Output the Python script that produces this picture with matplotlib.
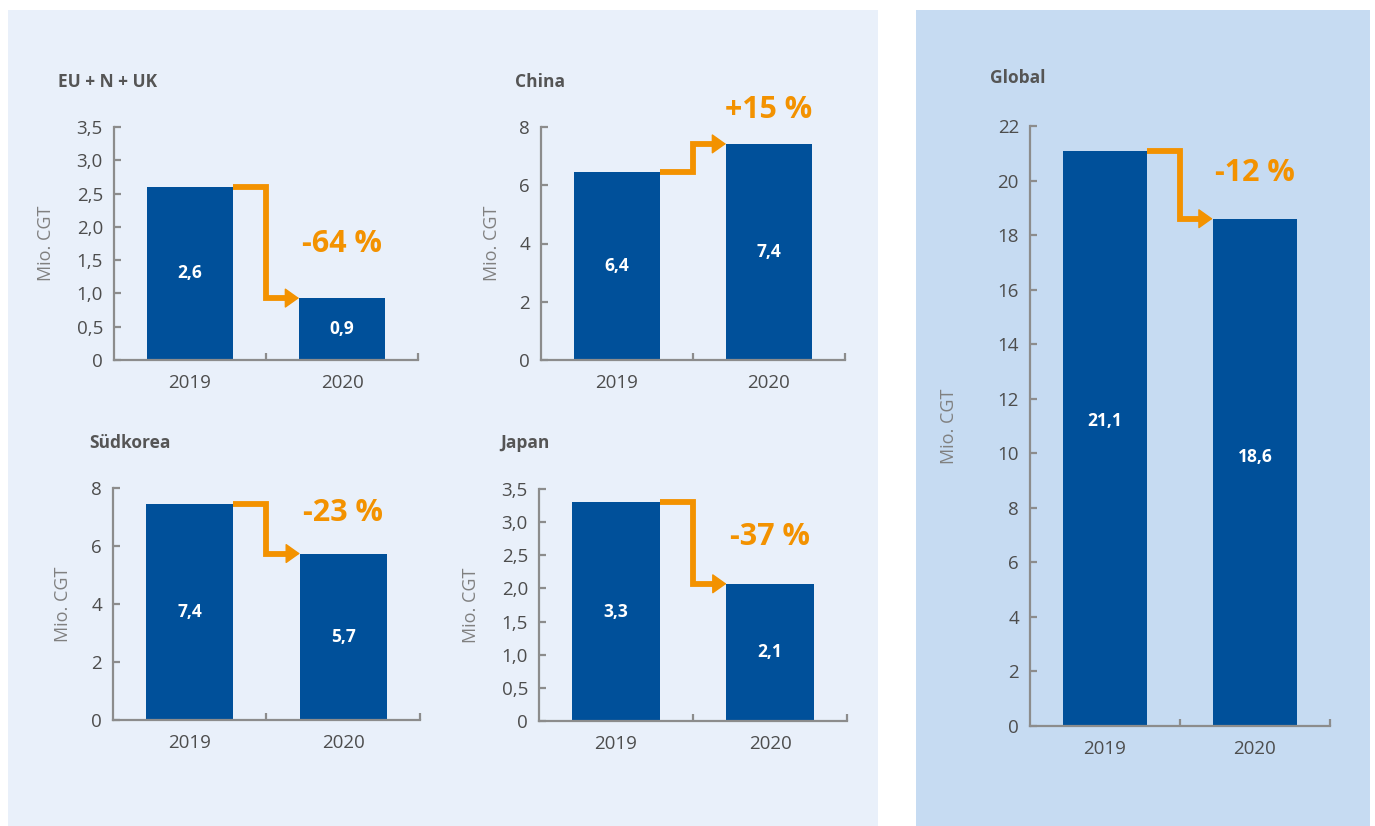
import matplotlib.pyplot as plt
from matplotlib.patches import Rectangle

plt.rcParams['font.family'] = ['Open Sans', 'DejaVu Sans']

# --- data ---
years = ["2019", "2020"]
eu_vals = [2.6, 0.93]
china_vals = [6.44, 7.42]
korea_vals = [7.44, 5.74]
japan_vals = [3.30, 2.07]
global_vals = [21.1, 18.6]
pct_labels = ["-64 %", "+15 %", "-23 %", "-37 %", "-12 %"]
titles = ["EU + N + UK", "China", "Südkorea", "Japan", "Global"]

BAR = "#00509A"
ORANGE = "#F39200"
SPINE = "#8C8C8C"
TXT = "#4D4D4D"
W, H = 1375, 826


def tick_fmt(ticks):
    if all(t == int(t) for t in ticks):
        return [str(int(t)) for t in ticks]
    return ["0" if t == 0 else f"{t:.1f}".replace(".", ",") for t in ticks]


def panel(fig, rect_px, title_px, title, vals, yticks, pct, pct_y, ylab_x, lab_frac):
    l, r, t, b = rect_px
    ax = fig.add_axes([l / W, 1 - b / H, (r - l) / W, (b - t) / H])
    ax.set_facecolor("none")
    bw = 0.565
    ax.bar([0, 1], vals, width=bw, color=BAR, zorder=2)
    ax.set_xlim(-0.5, 1.5)
    ax.set_ylim(0, yticks[-1])
    ax.set_yticks(yticks)
    ax.set_yticklabels(tick_fmt(yticks))
    ax.set_xticks([0, 1])
    ax.set_xticklabels(years)
    ax.set_xticks([0.5, 1.5], minor=True)
    for s in ("top", "right"):
        ax.spines[s].set_visible(False)
    for s in ("left", "bottom"):
        ax.spines[s].set_color(SPINE)
        ax.spines[s].set_linewidth(1.6)
    ax.tick_params(axis="y", direction="in", length=5, width=1.6, color=SPINE,
                   labelsize=13.5, labelcolor=TXT, pad=8)
    ax.tick_params(axis="x", which="major", length=0, labelsize=13.5,
                   labelcolor=TXT, pad=10)
    ax.tick_params(axis="x", which="minor", direction="in", length=5,
                   width=1.6, color=SPINE)
    ax.set_ylabel("Mio. CGT", fontsize=13, color="#808080")
    ax.yaxis.set_label_coords(ylab_x, 0.5)

    for i, v in enumerate(vals):
        ax.text(i, v * lab_frac, f"{v:.1f}".replace(".", ","), ha="center",
                va="center", color="white", fontsize=12.5, fontweight="bold",
                zorder=3)

    # elbow arrow
    v0, v1 = vals
    x0 = bw / 2
    x1 = 1 - bw / 2
    ax.plot([x0, 0.5, 0.5, x1 - 0.06], [v0, v0, v1, v1], color=ORANGE, lw=4.2,
            solid_joinstyle="miter", solid_capstyle="butt", zorder=3,
            clip_on=False)
    ax.annotate("", xy=(x1, v1), xytext=(0.5, v1),
                arrowprops=dict(arrowstyle="-|>,head_length=0.45,head_width=0.32",
                                color=ORANGE, lw=1, mutation_scale=20,
                                shrinkA=0, shrinkB=0), zorder=3)
    ax.text(1, pct_y, pct, ha="center", va="center", color=ORANGE,
            fontsize=22, fontweight="bold", clip_on=False)

    fig.text(title_px[0] / W, 1 - title_px[1] / H, title, ha="left",
             va="center", fontsize=12.5, fontweight="bold", color="#555555")
    return ax


fig = plt.figure(figsize=(W / 100, H / 100), dpi=100)
fig.patch.set_facecolor("white")
fig.patches.append(Rectangle((8 / W, 0), 870 / W, 816 / H, transform=fig.transFigure,
                             facecolor="#E9F0FA", edgecolor="none", zorder=-10))
fig.patches.append(Rectangle((916 / W, 0), 454 / W, 816 / H, transform=fig.transFigure,
                             facecolor="#C6DBF2", edgecolor="none", zorder=-10))

half = [0, 0.5, 1.0, 1.5, 2.0, 2.5, 3.0, 3.5]
evens8 = [0, 2, 4, 6, 8]
evens22 = list(range(0, 23, 2))

panel(fig, (114, 418, 127, 360), (58, 82), titles[0], eu_vals, half,
      pct_labels[0], 1.74, -0.194, 0.5)
panel(fig, (541, 845, 127, 360), (515, 82), titles[1], china_vals, evens8,
      pct_labels[1], 8.58, -0.132, 0.5)
panel(fig, (113, 420, 488, 720), (89, 443), titles[2], korea_vals, evens8,
      pct_labels[2], 7.14, -0.134, 0.5)
panel(fig, (539, 847, 489, 721), (500, 443), titles[3], japan_vals, half,
      pct_labels[3], 2.77, -0.192, 0.5)
panel(fig, (1030, 1330, 126, 726), (990, 78), titles[4], global_vals, evens22,
      pct_labels[4], 20.27, -0.24, 0.53)

fig.savefig("out.png", dpi=100)
